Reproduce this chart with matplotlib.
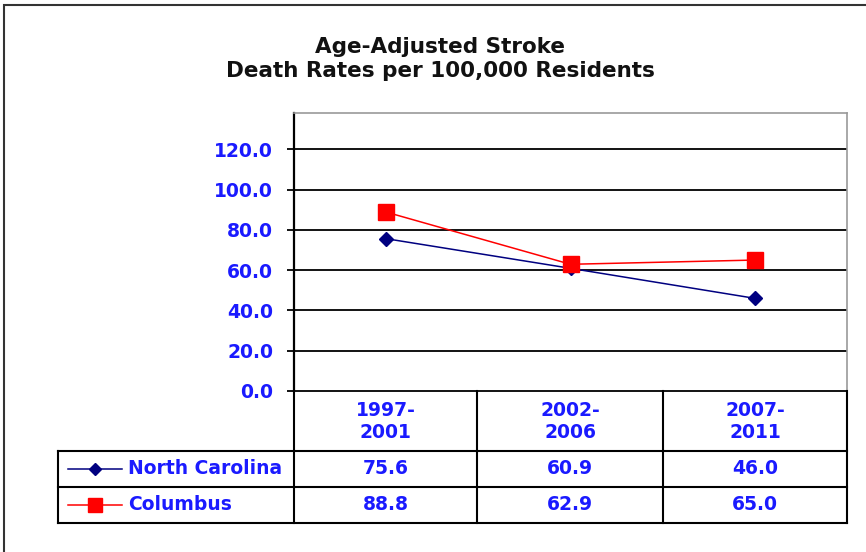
import matplotlib
matplotlib.use('Agg')
import matplotlib.pyplot as plt
from matplotlib.lines import Line2D
from matplotlib.patches import Rectangle

periods = ['1997-\n2001', '2002-\n2006', '2007-\n2011']
series_names = ['North Carolina', 'Columbus']
north_carolina = [75.6, 60.9, 46.0]
columbus = [88.8, 62.9, 65.0]
yticks = [0, 20, 40, 60, 80, 100, 120]

W, H = 866, 552
blue = '#1a1aff'
fs = 13.5
fig = plt.figure(figsize=(W / 100, H / 100), dpi=100)

def fx(x):
    return x / W

def fy(y):
    return 1 - y / H

# plot area in pixels
L, R, T, B = 294, 847, 113, 391
ax = fig.add_axes([fx(L), fy(B), fx(R) - fx(L), fy(T) - fy(B)])
x = range(len(periods))
ax.set_xlim(-0.5, len(periods) - 0.5)
ax.set_ylim(0, 138)
for v in yticks[1:]:
    ax.axhline(v, color='black', lw=1.3, zorder=1)
ax.plot(x, north_carolina, color='#000080', lw=1.1, marker='D', ms=7, zorder=3)
ax.plot(x, columbus, color='red', lw=1.1, marker='s', ms=11, zorder=3)
ax.set_xticks([])
ax.set_yticks(yticks)
ax.set_yticklabels([f'{v:.1f}' for v in yticks], color=blue, fontweight='bold', fontsize=fs)
ax.tick_params(axis='y', length=5, width=1.3, pad=10)
ax.spines['left'].set_linewidth(1.6)
ax.spines['bottom'].set_linewidth(1.3)
for s in ['top', 'right']:
    ax.spines[s].set_color('#999999')
    ax.spines[s].set_linewidth(1.2)

# title
fig.text(fx(440), fy(53), 'Age-Adjusted Stroke', ha='center', va='baseline',
         fontsize=15.5, fontweight='bold', color='#111111')
fig.text(fx(440), fy(77), 'Death Rates per 100,000 Residents', ha='center', va='baseline',
         fontsize=15.5, fontweight='bold', color='#111111')

# data table under the axis
cols = [294, 477, 663, 847]
rows = [391, 451, 487, 523]
tleft = 58

def hline(x0, x1, y, lw=1.5, c='black'):
    fig.add_artist(Line2D([fx(x0), fx(x1)], [fy(y), fy(y)], color=c, lw=lw))

def vline(x, y0, y1, lw=1.5, c='black'):
    fig.add_artist(Line2D([fx(x), fx(x)], [fy(y0), fy(y1)], color=c, lw=lw))

hline(tleft, R, rows[1])
hline(tleft, R, rows[2])
hline(tleft, R, rows[3])
vline(tleft, rows[1], rows[3])
for c in cols:
    vline(c, rows[0], rows[3])

centers = [(cols[i] + cols[i + 1]) / 2 for i in range(len(periods))]
for cx, p in zip(centers, periods):
    fig.text(fx(cx), fy((rows[0] + rows[1]) / 2 + 1), p, ha='center', va='center',
             color=blue, fontweight='bold', fontsize=fs, linespacing=1.2)

styles = [('#000080', 'D', 6), ('red', 's', 10)]
for i, (name, vals) in enumerate(zip(series_names, [north_carolina, columbus])):
    yc = (rows[i + 1] + rows[i + 2]) / 2
    col, mk, ms = styles[i]
    fig.add_artist(Line2D([fx(68), fx(122)], [fy(yc), fy(yc)], color=col, lw=1.1))
    fig.add_artist(Line2D([fx(95)], [fy(yc)], color=col, marker=mk, ms=ms, lw=0))
    fig.text(fx(128), fy(yc), name, ha='left', va='center', color=blue,
             fontweight='bold', fontsize=fs)
    for cx, v in zip(centers, vals):
        fig.text(fx(cx), fy(yc), f'{v:.1f}', ha='center', va='center', color=blue,
                 fontweight='bold', fontsize=fs)

# outer frame
fig.add_artist(Rectangle((fx(4), fy(560)), fx(880) - fx(4), fy(5) - fy(560),
                         fill=False, ec='#333333', lw=1.5, transform=fig.transFigure))

fig.savefig('out.png', dpi=100)
